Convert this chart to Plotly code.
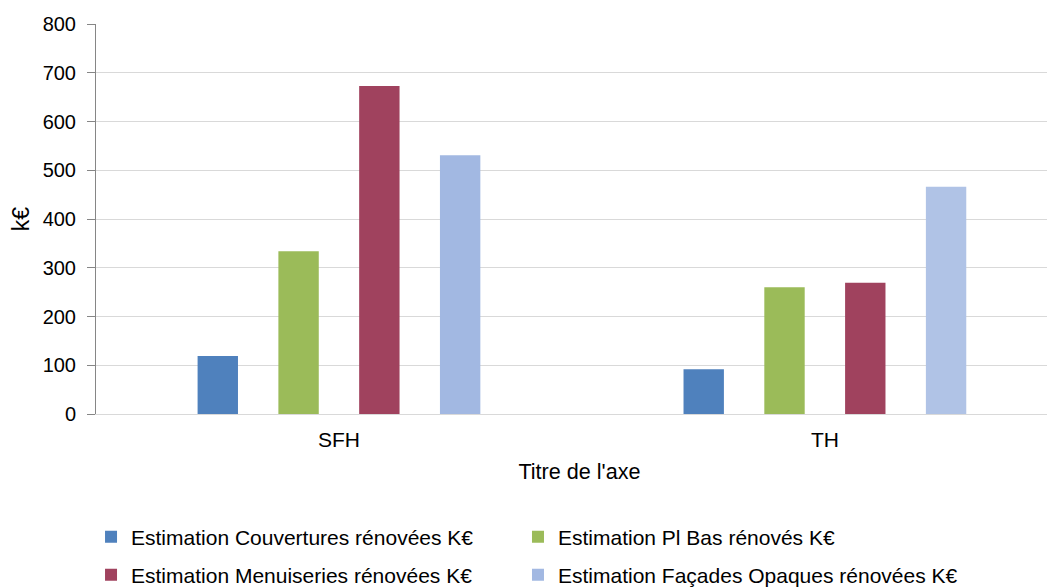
import plotly.graph_objects as go

categories = ["SFH", "TH"]
series_names = [
    "Estimation Couvertures rénovées K€",
    "Estimation Pl Bas rénovés K€",
    "Estimation Menuiseries rénovées K€",
    "Estimation Façades Opaques rénovées K€",
]
couvertures = [119, 92]
pl_bas = [334, 260]
menuiseries = [673, 269]
facades = [531, 466]
y_ticks = [0, 100, 200, 300, 400, 500, 600, 700, 800]

colors = ["#4F81BD", "#9BBB59", "#A0425E", ["#A2B8E2", "#B0C3E6"]]
legends = ["legend", "legend2", "legend3", "legend4"]

fig = go.Figure()
for name, vals, col, lg in zip(series_names, [couvertures, pl_bas, menuiseries, facades], colors, legends):
    fig.add_trace(go.Bar(
        x=categories, y=vals, name=name,
        marker=dict(color=col, line=dict(width=0)),
        legend=lg, showlegend=True,
    ))

family = "Liberation Sans, Arial, sans-serif"
font = dict(family=family, size=21, color="#000000")


def leg(x, y):
    return dict(orientation="h", xref="container", yref="container",
                x=x, y=y, xanchor="left", yanchor="middle",
                font=font, bgcolor="rgba(0,0,0,0)")


# body has an 8px default margin, so margins are offset to compensate
fig.update_layout(
    width=1055, height=588,
    template="plotly_white",
    paper_bgcolor="white", plot_bgcolor="white",
    font=font,
    showlegend=True,
    margin=dict(l=88, r=0, t=16, b=182, autoexpand=False),
    barmode="group",
    bargap=0.335,
    bargroupgap=0.5,
    legend=leg(0.0787, 0.1003),
    legend2=leg(0.4834, 0.1003),
    legend3=leg(0.0787, 0.0357),
    legend4=leg(0.4834, 0.0357),
)

fig.update_yaxes(
    range=[0, 800], tickvals=y_ticks,
    tickfont=dict(family=family, size=20, color="#000000"),
    title=dict(text="k€", standoff=14, font=dict(family=family, size=23, color="#000000")),
    showgrid=True, gridcolor="#D9D9D9", gridwidth=1,
    showline=True, linecolor="#868686", linewidth=1,
    ticks="outside", ticklen=8, tickcolor="#868686",
    ticklabelstandoff=7,
    zeroline=False,
)
# the original chart is cropped on the right, so the category axis runs past the edge
fig.update_xaxes(
    range=[-0.5, 1.49],
    title=dict(text="Titre de l'axe", standoff=13, font=dict(family=family, size=21.6, color="#000000")),
    showline=True, linecolor="#D9D9D9", linewidth=1,
    showgrid=False, ticks="",
    ticklabelstandoff=7,
)

fig.write_html("out.html")
